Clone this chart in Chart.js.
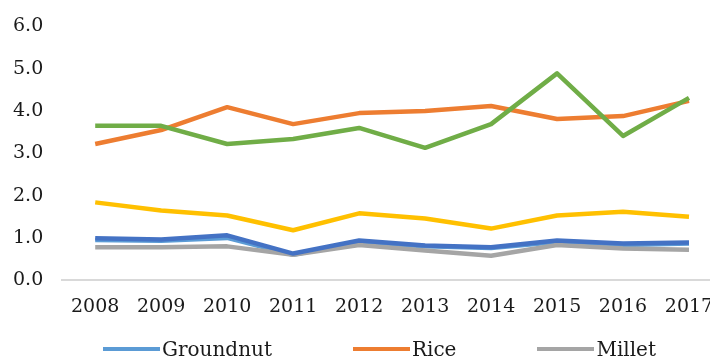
<!DOCTYPE html>
<html>
<head>
<meta charset="utf-8">
<script src="https://cdn.jsdelivr.net/npm/chart.js@4.4.1/dist/chart.umd.min.js"></script>
<style>
  html, body { margin: 0; padding: 0; background: #fff; overflow: hidden; width: 710px; height: 358px; }
  #wrap { position: absolute; left: -6px; top: -4px; width: 736px; height: 342px; }
  #legend {
    position: absolute; left: 103px; top: 336px; width: 600px;
    display: flex; flex-wrap: wrap; column-gap: 81px; row-gap: 40px;
    font-family: "DejaVu Serif", serif; font-size: 20px; color: #1a1a1a;
  }
  .item { display: flex; align-items: center; height: 26px; }
  .swatch { width: 57px; height: 4px; margin-right: 2px; }
</style>
</head>
<body>
<div id="wrap"><canvas id="chart"></canvas></div>
<div id="legend"></div>
<script>
// dados
const years = ["2008", "2009", "2010", "2011", "2012", "2013", "2014", "2015", "2016", "2017"];
const seriesNames = ["Groundnut", "Rice", "Millet", "Maize", "Sorghum", "Cowpea"];
const groundnut = [0.95, 0.93, 1.00, 0.60, 0.90, 0.80, 0.76, 0.90, 0.83, 0.87];
const rice      = [3.22, 3.55, 4.09, 3.69, 3.95, 4.00, 4.12, 3.81, 3.88, 4.24];
const millet    = [0.78, 0.78, 0.80, 0.60, 0.83, 0.70, 0.58, 0.83, 0.75, 0.72];
const maize     = [1.84, 1.65, 1.53, 1.18, 1.58, 1.46, 1.22, 1.53, 1.62, 1.50];
const sorghum   = [0.99, 0.96, 1.06, 0.63, 0.94, 0.82, 0.78, 0.94, 0.87, 0.89];
const cowpea    = [3.65, 3.65, 3.22, 3.34, 3.60, 3.13, 3.69, 4.89, 3.41, 4.31];
const yTicks = [0, 1, 2, 3, 4, 5, 6];

const colors = ["#5B9BD5", "#ED7D31", "#A5A5A5", "#FFC000", "#4472C4", "#70AD47"];
const values = [groundnut, rice, millet, maize, sorghum, cowpea];

const font = { family: "'DejaVu Serif', serif", size: 19 };

const datasets = values.map((v, i) => ({
  label: seriesNames[i],
  data: v,
  borderColor: colors[i],
  backgroundColor: colors[i],
  borderWidth: 4.5,
  pointRadius: 0,
  tension: 0,
  borderJoinStyle: "round",
  order: values.length - i // séries seguintes por cima, como no Excel
}));

new Chart(document.getElementById("chart"), {
  type: "line",
  data: { labels: years, datasets: datasets },
  options: {
    responsive: true,
    maintainAspectRatio: false,
    animation: false,
    layout: { padding: { top: 7, left: 0, right: 8, bottom: 4 } },
    plugins: { legend: { display: false }, tooltip: { enabled: false } },
    scales: {
      x: {
        offset: true,
        grid: { display: false, drawTicks: false, offset: true },
        border: { display: true, color: "#d9d9d9", width: 2 },
        ticks: { font: font, color: "#1a1a1a", padding: 15.5, maxRotation: 0, autoSkip: false }
      },
      y: {
        min: 0,
        max: 6,
        afterBuildTicks: axis => { axis.ticks = yTicks.map(v => ({ value: v })); },
        grid: { display: false, drawTicks: false },
        border: { display: false },
        ticks: { font: font, color: "#1a1a1a", padding: 19, callback: v => Number(v).toFixed(1) }
      }
    }
  }
});

// LEGENDA
const legend = document.getElementById("legend");
seriesNames.forEach((name, i) => {
  legend.innerHTML += `<div class="item"><span class="swatch" style="background:${colors[i]}"></span>${name}</div>`;
});
</script>
</body>
</html>
